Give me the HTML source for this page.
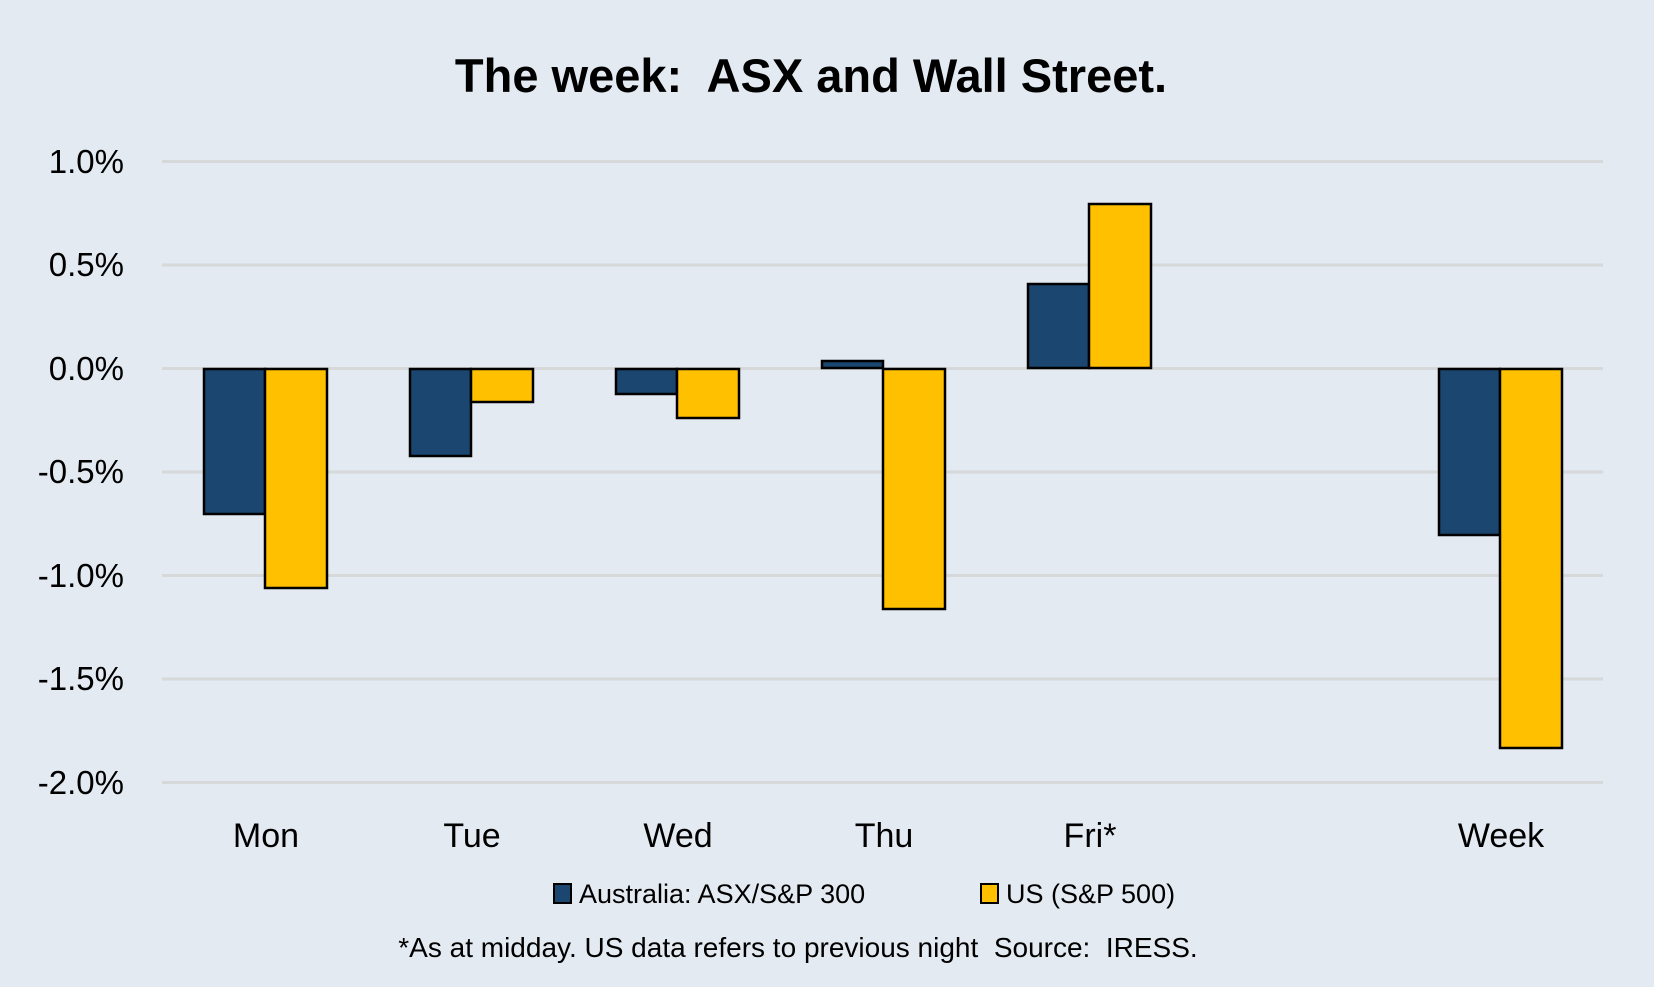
<!DOCTYPE html>
<html><head><meta charset="utf-8"><style>
body{margin:0;background:#e3eaf1;}
svg text{font-family:"Liberation Sans",sans-serif;fill:#000;white-space:pre;}
</style></head><body>
<svg width="1654" height="982" xmlns="http://www.w3.org/2000/svg" xml:space="preserve">
<rect width="1654" height="982" fill="#e3eaf1"/>
<text x="811" y="92" font-size="47" font-weight="bold" text-anchor="middle">The week:  ASX and Wall Street.</text>
<g stroke="#d6d8da" stroke-width="3">
<line x1="162" x2="1603" y1="161.5" y2="161.5"/>
<line x1="162" x2="1603" y1="265" y2="265"/>
<line x1="162" x2="1603" y1="368.5" y2="368.5"/>
<line x1="162" x2="1603" y1="472" y2="472"/>
<line x1="162" x2="1603" y1="575.5" y2="575.5"/>
<line x1="162" x2="1603" y1="679" y2="679"/>
<line x1="162" x2="1603" y1="782.5" y2="782.5"/>
</g>
<g font-size="33" text-anchor="end">
<text x="124" y="173">1.0%</text>
<text x="124" y="276">0.5%</text>
<text x="124" y="380">0.0%</text>
<text x="124" y="483">-0.5%</text>
<text x="124" y="587">-1.0%</text>
<text x="124" y="690">-1.5%</text>
<text x="124" y="794">-2.0%</text>
</g>
<g stroke="#000" stroke-width="2.5">
<rect x="204" y="369" width="61" height="145" fill="#1a4670"/>
<rect x="265" y="369" width="62" height="219" fill="#ffc000"/>
<rect x="410" y="369" width="61" height="87" fill="#1a4670"/>
<rect x="471" y="369" width="62" height="33" fill="#ffc000"/>
<rect x="616" y="369" width="61" height="25" fill="#1a4670"/>
<rect x="677" y="369" width="62" height="49" fill="#ffc000"/>
<rect x="822" y="361" width="61" height="7" fill="#1a4670"/>
<rect x="883" y="369" width="62" height="240" fill="#ffc000"/>
<rect x="1028" y="284" width="61" height="84" fill="#1a4670"/>
<rect x="1089" y="204" width="62" height="164" fill="#ffc000"/>
<rect x="1439" y="369" width="61" height="166" fill="#1a4670"/>
<rect x="1500" y="369" width="62" height="379" fill="#ffc000"/>
</g>
<g font-size="34" text-anchor="middle">
<text x="266" y="847">Mon</text>
<text x="472" y="847">Tue</text>
<text x="678" y="847">Wed</text>
<text x="884" y="847">Thu</text>
<text x="1090" y="847">Fri*</text>
<text x="1501" y="847">Week</text>
</g>
<rect x="554" y="884" width="17" height="19" fill="#1a4670" stroke="#000" stroke-width="2"/>
<text x="579" y="903" font-size="27">Australia: ASX/S&amp;P 300</text>
<rect x="981" y="884" width="17" height="19" fill="#ffc000" stroke="#000" stroke-width="2"/>
<text x="1006" y="903" font-size="27">US (S&amp;P 500)</text>
<text x="798" y="957" font-size="28" text-anchor="middle">*As at midday. US data refers to previous night  Source:  IRESS.</text>
</svg>
</body></html>
